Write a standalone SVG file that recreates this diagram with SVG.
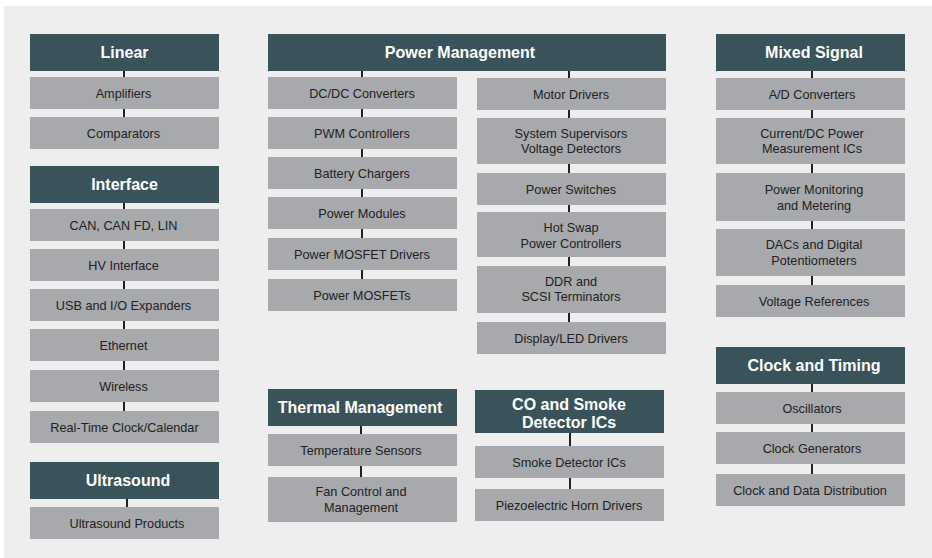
<svg xmlns="http://www.w3.org/2000/svg" width="932" height="558" viewBox="0 0 932 558">
<style>
.h{fill:#3a535a}
.i{fill:#a7a9ac}
.ht{font-family:"Liberation Sans",Arial,sans-serif;font-size:16px;font-weight:bold;fill:#ffffff;text-anchor:middle}
.it{font-family:"Liberation Sans",Arial,sans-serif;font-size:12.7px;fill:#222222;text-anchor:middle}
.c line{stroke:#222222;stroke-width:2}
</style>
<rect x="0" y="0" width="932" height="558" fill="#ffffff"/>
<rect x="4" y="6" width="928" height="552" fill="#eeeeee"/>
<g class="c" id="connectors">
<line x1="124" y1="70" x2="124" y2="78"/>
<line x1="124" y1="108" x2="124" y2="118"/>
<line x1="124" y1="202" x2="124" y2="210"/>
<line x1="124" y1="240" x2="124" y2="250"/>
<line x1="124" y1="280" x2="124" y2="290"/>
<line x1="124" y1="320" x2="124" y2="330"/>
<line x1="124" y1="360" x2="124" y2="371"/>
<line x1="124" y1="401" x2="124" y2="412"/>
<line x1="127" y1="498" x2="127" y2="508"/>
<line x1="362" y1="70" x2="362" y2="78"/>
<line x1="362" y1="108" x2="362" y2="118"/>
<line x1="362" y1="148" x2="362" y2="158"/>
<line x1="362" y1="188" x2="362" y2="198"/>
<line x1="362" y1="228" x2="362" y2="239"/>
<line x1="362" y1="269" x2="362" y2="280"/>
<line x1="569" y1="70" x2="569" y2="79"/>
<line x1="569" y1="109" x2="569" y2="119"/>
<line x1="569" y1="163" x2="569" y2="174"/>
<line x1="569" y1="204" x2="569" y2="213"/>
<line x1="569" y1="256" x2="569" y2="267"/>
<line x1="569" y1="312" x2="569" y2="323"/>
<line x1="361" y1="425" x2="361" y2="435"/>
<line x1="361" y1="465" x2="361" y2="478"/>
<line x1="570" y1="432" x2="570" y2="447"/>
<line x1="570" y1="477" x2="570" y2="490"/>
<line x1="812" y1="70" x2="812" y2="79"/>
<line x1="812" y1="109" x2="812" y2="119"/>
<line x1="812" y1="163" x2="812" y2="174"/>
<line x1="812" y1="220" x2="812" y2="230"/>
<line x1="812" y1="275" x2="812" y2="286"/>
<line x1="812" y1="383" x2="812" y2="393"/>
<line x1="812" y1="423" x2="812" y2="433"/>
<line x1="812" y1="463" x2="812" y2="475"/>
</g>
<g id="linear"><rect class="h" x="30" y="34" width="189" height="37"/><text class="ht" x="124.5" y="58">Linear</text></g>
<g id="amplifiers"><rect class="i" x="30" y="77" width="189" height="32"/><text class="it" x="123.5" y="97.5">Amplifiers</text></g>
<g id="comparators"><rect class="i" x="30" y="117" width="189" height="32"/><text class="it" x="123.5" y="137.5">Comparators</text></g>
<g id="interface"><rect class="h" x="30" y="166" width="189" height="37"/><text class="ht" x="124.5" y="190">Interface</text></g>
<g id="can"><rect class="i" x="30" y="209" width="189" height="32"/><text class="it" x="123.5" y="229.5">CAN, CAN FD, LIN</text></g>
<g id="hv"><rect class="i" x="30" y="249" width="189" height="32"/><text class="it" x="123.5" y="269.5">HV Interface</text></g>
<g id="usb"><rect class="i" x="30" y="289" width="189" height="32"/><text class="it" x="123.5" y="309.5">USB and I/O Expanders</text></g>
<g id="ethernet"><rect class="i" x="30" y="329" width="189" height="32"/><text class="it" x="123.5" y="349.5">Ethernet</text></g>
<g id="wireless"><rect class="i" x="30" y="370" width="189" height="32"/><text class="it" x="123.5" y="390.5">Wireless</text></g>
<g id="rtc"><rect class="i" x="30" y="411" width="189" height="32"/><text class="it" x="124.5" y="431.5">Real-Time Clock/Calendar</text></g>
<g id="ultrasound"><rect class="h" x="30" y="462" width="189" height="37"/><text class="ht" x="128" y="486">Ultrasound</text></g>
<g id="ultrasound-products"><rect class="i" x="30" y="507" width="189" height="32"/><text class="it" x="127" y="527.5">Ultrasound Products</text></g>
<g id="power-management"><rect class="h" x="268" y="34" width="398" height="37"/><text class="ht" x="460" y="58">Power Management</text></g>
<g id="dcdc"><rect class="i" x="268" y="77" width="189" height="32"/><text class="it" x="362" y="97.5">DC/DC Converters</text></g>
<g id="pwm"><rect class="i" x="268" y="117" width="189" height="32"/><text class="it" x="362" y="137.5">PWM Controllers</text></g>
<g id="battery"><rect class="i" x="268" y="157" width="189" height="32"/><text class="it" x="362" y="177.5">Battery Chargers</text></g>
<g id="power-modules"><rect class="i" x="268" y="197" width="189" height="32"/><text class="it" x="362" y="217.5">Power Modules</text></g>
<g id="mosfet-drivers"><rect class="i" x="268" y="238" width="189" height="32"/><text class="it" x="362" y="258.5">Power MOSFET Drivers</text></g>
<g id="mosfets"><rect class="i" x="268" y="279" width="189" height="32"/><text class="it" x="362" y="299.5">Power MOSFETs</text></g>
<g id="motor"><rect class="i" x="477" y="78" width="189" height="32"/><text class="it" x="571" y="98.5">Motor Drivers</text></g>
<g id="supervisors"><rect class="i" x="477" y="118" width="189" height="46"/><text class="it" x="571" y="138"><tspan x="571">System Supervisors</tspan><tspan x="571" dy="15">Voltage Detectors</tspan></text></g>
<g id="switches"><rect class="i" x="477" y="173" width="189" height="32"/><text class="it" x="571" y="193.5">Power Switches</text></g>
<g id="hotswap"><rect class="i" x="477" y="212" width="189" height="45"/><text class="it" x="571" y="232"><tspan x="571">Hot Swap</tspan><tspan x="571" dy="16">Power Controllers</tspan></text></g>
<g id="ddr"><rect class="i" x="477" y="266" width="189" height="47"/><text class="it" x="571" y="286"><tspan x="571">DDR and</tspan><tspan x="571" dy="15">SCSI Terminators</tspan></text></g>
<g id="display"><rect class="i" x="477" y="322" width="189" height="32"/><text class="it" x="571" y="342.5">Display/LED Drivers</text></g>
<g id="thermal"><rect class="h" x="268" y="389" width="189" height="37"/><text class="ht" x="360" y="413">Thermal Management</text></g>
<g id="temp"><rect class="i" x="268" y="434" width="189" height="32"/><text class="it" x="361" y="454.5">Temperature Sensors</text></g>
<g id="fan"><rect class="i" x="268" y="477" width="189" height="45"/><text class="it" x="361" y="496"><tspan x="361">Fan Control and</tspan><tspan x="361" dy="16">Management</tspan></text></g>
<g id="co-smoke"><rect class="h" x="475" y="390" width="189" height="43"/><text class="ht" x="569" y="409.5"><tspan x="569">CO and Smoke</tspan><tspan x="569" dy="18.5">Detector ICs</tspan></text></g>
<g id="smoke"><rect class="i" x="475" y="446" width="189" height="32"/><text class="it" x="569" y="466.5">Smoke Detector ICs</text></g>
<g id="piezo"><rect class="i" x="475" y="489" width="189" height="32"/><text class="it" x="569" y="509.5">Piezoelectric Horn Drivers</text></g>
<g id="mixed-signal"><rect class="h" x="716" y="34" width="189" height="37"/><text class="ht" x="814" y="58">Mixed Signal</text></g>
<g id="adc"><rect class="i" x="716" y="78" width="189" height="32"/><text class="it" x="812" y="98.5">A/D Converters</text></g>
<g id="current"><rect class="i" x="716" y="118" width="189" height="46"/><text class="it" x="812" y="138"><tspan x="812">Current/DC Power</tspan><tspan x="812" dy="15">Measurement ICs</tspan></text></g>
<g id="monitoring"><rect class="i" x="716" y="173" width="189" height="48"/><text class="it" x="814" y="194"><tspan x="814">Power Monitoring</tspan><tspan x="814" dy="16">and Metering</tspan></text></g>
<g id="dacs"><rect class="i" x="716" y="229" width="189" height="47"/><text class="it" x="814" y="249"><tspan x="814">DACs and Digital</tspan><tspan x="814" dy="16">Potentiometers</tspan></text></g>
<g id="vref"><rect class="i" x="716" y="285" width="189" height="32"/><text class="it" x="814" y="305.5">Voltage References</text></g>
<g id="clock-timing"><rect class="h" x="716" y="347" width="189" height="37"/><text class="ht" x="814" y="371">Clock and Timing</text></g>
<g id="oscillators"><rect class="i" x="716" y="392" width="189" height="32"/><text class="it" x="812" y="412.5">Oscillators</text></g>
<g id="clockgen"><rect class="i" x="716" y="432" width="189" height="32"/><text class="it" x="812" y="452.5">Clock Generators</text></g>
<g id="clockdist"><rect class="i" x="716" y="474" width="189" height="32"/><text class="it" x="810" y="494.5">Clock and Data Distribution</text></g>
</svg>
